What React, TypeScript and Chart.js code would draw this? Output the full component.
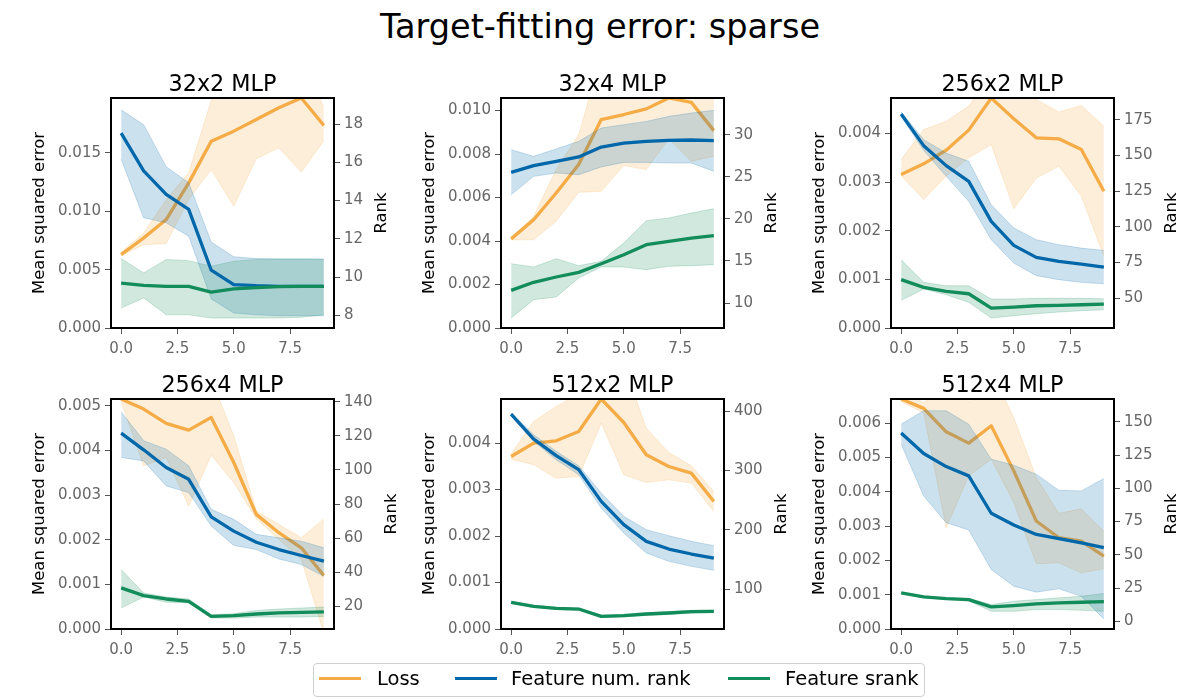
import React, { useEffect, useRef } from "react";
import { Chart, registerables } from "chart.js";

Chart.register(...registerables);

const FONT = "DejaVu Sans";
Chart.defaults.font.family = FONT;

// ---------- data ----------
const STEPS = [0, 1, 2, 3, 4, 5, 6, 7, 8, 9];
const X_TICKS = [0, 2.5, 5, 7.5];
const SUPTITLE = "Target-fitting error: sparse";
const PANEL_TITLES = ["32x2 MLP", "32x4 MLP", "256x2 MLP", "256x4 MLP", "512x2 MLP", "512x4 MLP"];
const SERIES_NAMES = ["Loss", "Feature num. rank", "Feature srank"];

// 32x2
const P1_LOSS = [0.00629, 0.00771, 0.00929, 0.01243, 0.016, 0.01686, 0.01786, 0.01886, 0.0197, 0.01734];
const P1_LOSS_LO = [0.0062, 0.00714, 0.00723, 0.011, 0.01357, 0.01043, 0.01449, 0.01543, 0.01334, 0.01606];
const P1_LOSS_HI = [0.0065, 0.00814, 0.011, 0.01329, 0.0195, 0.022, 0.023, 0.023, 0.024, 0.01877];
const P1_NUM = [17.52, 15.55, 14.32, 13.54, 10.36, 9.61, 9.55, 9.52, 9.52, 9.52];
const P1_NUM_LO = [16.16, 13.1, 12.84, 12.14, 8.86, 8.12, 8.03, 7.98, 7.98, 7.98];
const P1_NUM_HI = [18.74, 17.96, 15.77, 14.93, 11.83, 11.06, 10.97, 10.95, 10.95, 10.95];
const P1_SR = [9.69, 9.57, 9.52, 9.52, 9.22, 9.38, 9.45, 9.5, 9.52, 9.52];
const P1_SR_LO = [8.38, 8.91, 8.03, 8.03, 7.86, 7.86, 7.86, 7.86, 7.9, 8.03];
const P1_SR_HI = [10.97, 10.22, 10.92, 10.86, 10.57, 10.83, 10.92, 10.95, 10.95, 10.92];

// 32x4
const P2_LOSS = [0.0041, 0.00498, 0.00621, 0.00752, 0.00959, 0.00982, 0.01008, 0.01058, 0.01038, 0.00908];
const P2_LOSS_LO = [0.00406, 0.00406, 0.00491, 0.00624, 0.00629, 0.00747, 0.00729, 0.0087, 0.00767, 0.0079];
const P2_LOSS_HI = [0.00414, 0.00514, 0.00729, 0.0089, 0.0125, 0.0125, 0.012, 0.012, 0.0115, 0.0105];
const P2_NUM = [25.52, 26.32, 26.83, 27.35, 28.53, 29.01, 29.21, 29.33, 29.37, 29.29];
const P2_NUM_LO = [22.87, 25.05, 25.45, 25.25, 26.16, 26.71, 26.71, 26.63, 26.63, 25.64];
const P2_NUM_HI = [28.22, 27.43, 28.3, 29.21, 30.79, 31.19, 31.58, 32.18, 32.57, 32.89];
const P2_SR = [11.5, 12.46, 13.09, 13.64, 14.67, 15.74, 16.93, 17.33, 17.72, 18.0];
const P2_SR_LO = [8.22, 10.4, 10.71, 12.97, 14.28, 14.28, 13.96, 14.36, 14.44, 14.55];
const P2_SR_HI = [14.67, 14.28, 15.27, 14.44, 14.95, 17.13, 19.78, 20.1, 20.69, 21.21];

// 256x2
const P3_LOSS = [0.003156, 0.003376, 0.003657, 0.004069, 0.00473, 0.004302, 0.003911, 0.00389, 0.003671, 0.002813];
const P3_LOSS_LO = [0.00313, 0.002642, 0.003122, 0.003499, 0.003774, 0.00245, 0.003087, 0.003328, 0.00271, 0.001475];
const P3_LOSS_HI = [0.003465, 0.004082, 0.004254, 0.004563, 0.0052, 0.0049, 0.0047, 0.00444, 0.004576, 0.004151];
const P3_NUM = [178.97, 156.8, 142.8, 131.8, 103.7, 86.9, 78.5, 75.7, 73.8, 71.7];
const P3_NUM_LO = [177.3, 153.5, 135.3, 117.8, 90.9, 74.5, 65.7, 62.9, 61, 60];
const P3_NUM_HI = [180.4, 161, 151.6, 145.8, 115.4, 99.1, 90.9, 87.4, 85, 83.4];
const P3_SR = [62.9, 57.5, 54.7, 53, 43, 43.7, 44.6, 44.9, 45.3, 45.8];
const P3_SR_LO = [48.4, 56.3, 52.3, 47, 36, 37.6, 39, 40.2, 41.1, 41.8];
const P3_SR_HI = [76.9, 61, 58.6, 58.6, 49.3, 49.3, 49.8, 49.8, 49.8, 49.5];

// 256x4
const P4_LOSS = [0.00515, 0.004925, 0.004603, 0.004454, 0.004738, 0.003728, 0.002567, 0.002156, 0.001819, 0.001198];
const P4_LOSS_LO = [0.00509, 0.003653, 0.00384, 0.002754, 0.003892, 0.003278, 0.00247, 0.002006, 0.001557, -0.0001];
const P4_LOSS_HI = [0.0053, 0.00525, 0.0053, 0.0053, 0.0056, 0.004326, 0.002642, 0.002343, 0.002043, 0.00247];
const P4_NUM = [121.6, 111.8, 101.4, 94.5, 72.5, 64.1, 57.6, 53.3, 49.8, 46.5];
const P4_NUM_LO = [107.3, 105.3, 90.6, 86.7, 67.1, 55.7, 53.3, 47.8, 44.5, 37.6];
const P4_NUM_HI = [134.1, 117.1, 112.2, 102.4, 76.9, 71, 62.2, 60.2, 58.2, 54.3];
const P4_SR = [30.8, 26.3, 24.3, 22.9, 14.1, 14.5, 15.5, 16.1, 16.5, 16.7];
const P4_SR_LO = [19, 25.5, 22.4, 22, 13.1, 13.1, 13.7, 13.7, 13.7, 14.1];
const P4_SR_HI = [41.6, 27.8, 25.5, 24.3, 15.1, 15.7, 17.6, 18.4, 19, 19.6];

// 512x2
const P5_LOSS = [0.003713, 0.004, 0.00405, 0.004251, 0.00495, 0.004444, 0.003749, 0.003498, 0.003355, 0.002746];
const P5_LOSS_LO = [0.003656, 0.003534, 0.003247, 0.003283, 0.00443, 0.003319, 0.003154, 0.003211, 0.00314, 0.00253];
const P5_LOSS_HI = [0.00377, 0.004466, 0.004789, 0.00505, 0.0053, 0.0057, 0.004323, 0.0038, 0.003513, 0.002961];
const P5_NUM = [395.4, 353.2, 325.1, 301.5, 248, 208.6, 180.5, 167.5, 159.1, 152.3];
const P5_NUM_LO = [392.6, 349.3, 318.3, 293, 236.7, 194.5, 160.8, 146.7, 138.3, 131.5];
const P5_NUM_HI = [397, 360.5, 332.4, 308.2, 262, 222.7, 200.2, 190, 180.5, 173.2];
const P5_SR = [77.5, 70.7, 67.4, 66.2, 53.9, 55, 57.8, 59.5, 61.7, 62.3];
const P5_SR_LO = [75.5, 69, 65.5, 64.5, 52, 53, 55.5, 57, 59.3, 60];
const P5_SR_HI = [79.5, 72.4, 69.3, 68, 55.8, 57, 60, 62, 64, 64.5];

// 512x4
const P6_LOSS = [0.0067, 0.006427, 0.005745, 0.005414, 0.00592, 0.004606, 0.003145, 0.002658, 0.002561, 0.002123];
const P6_LOSS_LO = [0.00662, 0.0063, 0.00295, 0.00446, 0.004946, 0.00368, 0.001899, 0.001928, 0.001636, 0.001753];
const P6_LOSS_HI = [0.0069, 0.0066, 0.0072, 0.00662, 0.0075, 0.00616, 0.004411, 0.003369, 0.003505, 0.002853];
const P6_NUM = [141.5, 126.1, 116.3, 109.3, 81.2, 72.4, 65.3, 62.1, 59, 55.3];
const P6_NUM_LO = [133.2, 94.2, 74.1, 68.6, 38.9, 26.4, 21.9, 24.4, 18.8, 1.8];
const P6_NUM_HI = [148.2, 158.3, 158.3, 148.2, 121.9, 117.3, 110.6, 98.5, 98, 107.3];
const P6_SR = [21.4, 18.3, 17.1, 16.3, 10.8, 11.8, 13.1, 13.8, 14.3, 14.8];
const P6_SR_LO = [20.9, 17.8, 16.6, 15.3, 7.5, 7.5, 8.8, 8.8, 8.3, 7.5];
const P6_SR_HI = [21.9, 18.8, 17.6, 17.3, 12.6, 15.1, 16.3, 17.6, 18.8, 20.9];

// axis ranges & ticks
const LOSS_TICKS = [
  [0, 0.005, 0.01, 0.015],
  [0, 0.002, 0.004, 0.006, 0.008, 0.01],
  [0, 0.001, 0.002, 0.003, 0.004],
  [0, 0.001, 0.002, 0.003, 0.004, 0.005],
  [0, 0.001, 0.002, 0.003, 0.004],
  [0, 0.001, 0.002, 0.003, 0.004, 0.005, 0.006],
];
const RANK_MIN = [7.34, 7.03, 29.0, 6.7, 32.5, -5.8];
const RANK_MAX = [19.36, 34.36, 190.2, 141.6, 420.8, 167.1];
const RANK_TICKS = [
  [8, 10, 12, 14, 16, 18],
  [10, 15, 20, 25, 30],
  [50, 75, 100, 125, 150, 175],
  [20, 40, 60, 80, 100, 120, 140],
  [100, 200, 300, 400],
  [0, 25, 50, 75, 100, 125, 150],
];

const PANELS = [
  { loss: [P1_LOSS, P1_LOSS_LO, P1_LOSS_HI], num: [P1_NUM, P1_NUM_LO, P1_NUM_HI], sr: [P1_SR, P1_SR_LO, P1_SR_HI] },
  { loss: [P2_LOSS, P2_LOSS_LO, P2_LOSS_HI], num: [P2_NUM, P2_NUM_LO, P2_NUM_HI], sr: [P2_SR, P2_SR_LO, P2_SR_HI] },
  { loss: [P3_LOSS, P3_LOSS_LO, P3_LOSS_HI], num: [P3_NUM, P3_NUM_LO, P3_NUM_HI], sr: [P3_SR, P3_SR_LO, P3_SR_HI] },
  { loss: [P4_LOSS, P4_LOSS_LO, P4_LOSS_HI], num: [P4_NUM, P4_NUM_LO, P4_NUM_HI], sr: [P4_SR, P4_SR_LO, P4_SR_HI] },
  { loss: [P5_LOSS, P5_LOSS_LO, P5_LOSS_HI], num: [P5_NUM, P5_NUM_LO, P5_NUM_HI], sr: [P5_SR, P5_SR_LO, P5_SR_HI] },
  { loss: [P6_LOSS, P6_LOSS_LO, P6_LOSS_HI], num: [P6_NUM, P6_NUM_LO, P6_NUM_HI], sr: [P6_SR, P6_SR_LO, P6_SR_HI] },
];

// ---------- style / layout ----------
const LINE = { loss: "rgb(245,172,70)", num: "rgb(0,104,170)", sr: "rgb(18,140,90)" };
const BAND = { loss: "rgba(245,172,70,0.2)", num: "rgba(0,104,170,0.2)", sr: "rgba(18,140,90,0.2)" };
const TICK_COLOR = "#666";
const TICK_SIZE = 15;
const MARGIN_L = 90;
const MARGIN_R = 70;
const MARGIN_T = 42;
const MARGIN_B = 40;
const PLOT_W = 223;
const PLOT_H = 230;
const CW = MARGIN_L + PLOT_W + MARGIN_R;
const CH = MARGIN_T + PLOT_H + MARGIN_B;
const PLOT_LEFTS = [111, 501, 891];
const PLOT_TOPS = [98, 399];

const pts = (ys: number[]) => ys.map((y, i) => ({ x: STEPS[i], y }));

const decorPlugin = {
  id: "panelDecor",
  afterDraw(chart: any, _args: any, opts: any) {
    const { ctx, chartArea: a } = chart;
    ctx.save();
    ctx.strokeStyle = "#000";
    ctx.lineWidth = 2;
    ctx.strokeRect(a.left, a.top, a.right - a.left, a.bottom - a.top);

    ctx.fillStyle = "#000";
    ctx.textAlign = "center";
    ctx.textBaseline = "alphabetic";
    ctx.font = `22.3px "${FONT}"`;
    ctx.fillText(opts.title, (a.left + a.right) / 2, a.top - 7);

    const cy = (a.top + a.bottom) / 2;
    ctx.font = `16.5px "${FONT}"`;
    ctx.save();
    ctx.translate(a.left - 67, cy);
    ctx.rotate(-Math.PI / 2);
    ctx.fillText("Mean squared error", 0, 0);
    ctx.restore();

    ctx.font = `${TICK_SIZE}px "${FONT}"`;
    let maxW = 0;
    for (const v of opts.rankTicks) maxW = Math.max(maxW, ctx.measureText(String(v)).width);
    ctx.font = `16.5px "${FONT}"`;
    ctx.save();
    ctx.translate(a.right + maxW + 33, cy);
    ctx.rotate(-Math.PI / 2);
    ctx.fillText("Rank", 0, 0);
    ctx.restore();
    ctx.restore();
  },
};

function bandSets(arr: number[][], key: "loss" | "num" | "sr", axis: string, order: number) {
  const edge = BAND[key];
  return [
    { data: pts(arr[1]), yAxisID: axis, borderColor: edge, borderWidth: 1, pointRadius: 0, fill: false, order, clip: 0 },
    { data: pts(arr[2]), yAxisID: axis, borderColor: edge, borderWidth: 1, pointRadius: 0, fill: "-1", backgroundColor: BAND[key], order, clip: 0 },
  ];
}
function lineSet(ys: number[], key: "loss" | "num" | "sr", axis: string, order: number) {
  return { data: pts(ys), yAxisID: axis, borderColor: LINE[key], borderWidth: 3.3, pointRadius: 0, fill: false, order, clip: 0, borderJoinStyle: "round" };
}

const tickFont = { family: FONT, size: TICK_SIZE };
const gridOpts = { display: true, drawOnChartArea: false, drawTicks: true, tickLength: 6, color: "#555", lineWidth: 1 };

function Panel({ idx }: { idx: number }) {
  const ref = useRef<HTMLCanvasElement>(null);
  const col = idx % 3;
  const row = Math.floor(idx / 3);
  useEffect(() => {
    const p = PANELS[idx];
    const datasets: any[] = [
      ...bandSets(p.loss, "loss", "yL", 10),
      lineSet(p.loss[0], "loss", "yL", 9),
      ...bandSets(p.num, "num", "yR", 8),
      ...bandSets(p.sr, "sr", "yR", 7),
      lineSet(p.num[0], "num", "yR", 6),
      lineSet(p.sr[0], "sr", "yR", 5),
    ];
    const lt = LOSS_TICKS[idx];
    const rt = RANK_TICKS[idx];
    const chart = new Chart(ref.current as HTMLCanvasElement, {
      type: "line",
      data: { datasets },
      plugins: [decorPlugin],
      options: {
        animation: false,
        responsive: false,
        events: [],
        layout: { padding: { top: MARGIN_T, left: 0, right: 0, bottom: 0 } },
        plugins: {
          legend: { display: false },
          tooltip: { enabled: false },
          title: { display: false },
          panelDecor: { title: PANEL_TITLES[idx], rankTicks: rt },
        } as any,
        scales: {
          x: {
            type: "linear",
            position: "bottom",
            min: -0.45,
            max: 9.45,
            bounds: "data",
            afterBuildTicks: (s: any) => { s.ticks = X_TICKS.map((v) => ({ value: v })); },
            afterFit: (s: any) => { s.height = MARGIN_B; },
            ticks: { callback: (v: any) => Number(v).toFixed(1), font: tickFont, color: TICK_COLOR, padding: 6, autoSkip: false, maxRotation: 0 },
            grid: gridOpts,
            border: { display: false },
          },
          yL: {
            type: "linear",
            position: "left",
            min: 0,
            max: Math.max(...p.loss[0]),
            bounds: "data",
            afterBuildTicks: (s: any) => { s.ticks = lt.map((v) => ({ value: v })); },
            afterFit: (s: any) => { s.width = MARGIN_L; },
            ticks: { callback: (v: any) => Number(v).toFixed(3), font: tickFont, color: TICK_COLOR, padding: 4, autoSkip: false },
            grid: gridOpts,
            border: { display: false },
          },
          yR: {
            type: "linear",
            position: "right",
            min: RANK_MIN[idx],
            max: RANK_MAX[idx],
            bounds: "data",
            afterBuildTicks: (s: any) => { s.ticks = rt.map((v) => ({ value: v })); },
            afterFit: (s: any) => { s.width = MARGIN_R; },
            ticks: { callback: (v: any) => String(v), font: tickFont, color: TICK_COLOR, padding: 4, autoSkip: false },
            grid: gridOpts,
            border: { display: false },
          },
        } as any,
      },
    } as any);
    return () => chart.destroy();
  }, [idx]);
  return (
    <canvas
      ref={ref}
      width={CW}
      height={CH}
      style={{ position: "absolute", left: PLOT_LEFTS[col] - MARGIN_L, top: PLOT_TOPS[row] - MARGIN_T, width: CW, height: CH }}
    />
  );
}

const LEGEND_HANDLES = [5, 141, 414];
const LEGEND_TEXTS = [63, 197, 471];
const LEGEND_COLORS = [LINE.loss, LINE.num, LINE.sr];

export default function App() {
  return (
    <div style={{ position: "absolute", left: 0, top: 0, width: 1200, height: 700, background: "#fff", overflow: "hidden", fontFamily: FONT }}>
      <div style={{ position: "absolute", left: 0, top: 10, width: 1200, textAlign: "center", fontSize: 33.6, lineHeight: "33.6px", color: "#000", whiteSpace: "nowrap" }}>
        {SUPTITLE}
      </div>
      {PANELS.map((_, i) => (
        <Panel key={i} idx={i} />
      ))}
      <div style={{ position: "absolute", left: 313, top: 663, width: 612, height: 34, border: "1px solid #d0d0d0", borderRadius: 4, boxSizing: "border-box", background: "rgba(255,255,255,0.8)" }}>
        {SERIES_NAMES.map((name, i) => (
          <React.Fragment key={name}>
            <div style={{ position: "absolute", left: LEGEND_HANDLES[i], top: 12.6, width: 42, height: 3.3, background: LEGEND_COLORS[i] }} />
            <div style={{ position: "absolute", left: LEGEND_TEXTS[i], top: 4.5, fontSize: 19.5, lineHeight: "19.5px", color: "#000", whiteSpace: "nowrap" }}>{name}</div>
          </React.Fragment>
        ))}
      </div>
    </div>
  );
}
